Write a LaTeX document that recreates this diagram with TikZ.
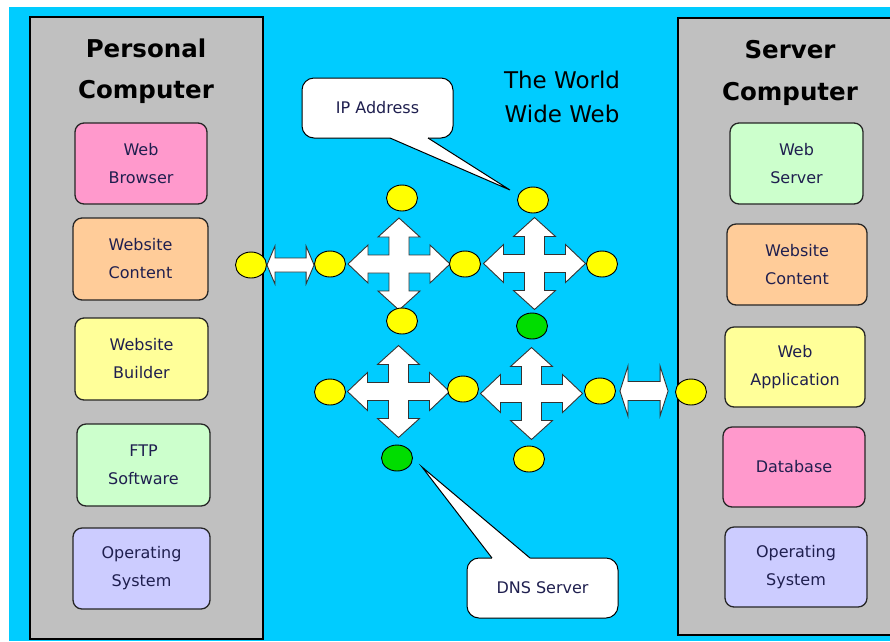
\documentclass[tikz,border=0pt]{standalone}
\usepackage{fontspec}
\setmainfont{DejaVu Sans}
\usetikzlibrary{shapes.geometric,calc}
\definecolor{sky}{HTML}{00CCFF}
\definecolor{panelgray}{HTML}{C0C0C0}
\definecolor{pinkb}{HTML}{FF99CC}
\definecolor{orangeb}{HTML}{FFCC99}
\definecolor{yellowb}{HTML}{FFFF99}
\definecolor{greenb}{HTML}{CCFFCC}
\definecolor{lavb}{HTML}{CCCCFF}
\definecolor{dotyellow}{HTML}{FFFF00}
\definecolor{dotgreen}{HTML}{00DD00}
\definecolor{txt}{HTML}{1F1F4F}
\tikzset{
 panel/.style={draw=black, line width=1.5pt, fill=panelgray},
 compbox/.style={draw=black!85, line width=1.3pt, rounded corners=9pt, inner sep=0pt, align=center, text=txt, font=\fontsize{16}{28}\selectfont},
 titletext/.style={font=\fontsize{24.5}{30}\selectfont\bfseries, anchor=base, inner sep=0pt},
 wwwtext/.style={font=\fontsize{23}{30}\selectfont, anchor=base, inner sep=0pt},
 dot/.style={ellipse, draw=black, line width=0.9pt, fill=dotyellow, minimum width=31pt, minimum height=26pt, inner sep=0pt},
 gdot/.style={dot, fill=dotgreen},
 blockarrow/.style={fill=white, draw=black!80, line width=0.9pt, line join=miter},
 bubble/.style={fill=white, draw=black, line width=1pt, rounded corners=12pt, text=txt, font=\fontsize{16}{20}\selectfont, inner sep=0pt},
 warpcross/.pic={
  \path[blockarrow] (0,-46) -- (21,-27) -- (10,-27) -- (10,-9) -- (31,-9) -- (31,-19) -- (51,0)
   -- (31,19) -- (31,9) -- (10,9) -- (10,27) -- (21,27) -- (0,46) -- (-21,27) -- (-10,27)
   -- (-10,9) -- (-31,9) -- (-31,19) -- (-51,0) -- (-31,-19) -- (-31,-9) -- (-10,-9)
   -- (-10,-27) -- (-21,-27) -- cycle;
 }
}
\begin{document}
\begin{tikzpicture}[x=1pt,y=-1pt]
\useasboundingbox (0,0) rectangle (890,641);
\fill[white] (0,0) rectangle (890,641);
\fill[sky] (9,7) rectangle (890,641);

% panels
\path[panel] (30,17) rectangle (263,639);
\path[panel] (678,18) rectangle (900,635);

% titles
\node[titletext] (pc1) at (146,57) {Personal};
\node[titletext] (pc2) at (146,98) {Computer};
\node[titletext] (sc1) at (790,58) {Server};
\node[titletext] (sc2) at (790,100) {Computer};
\node[wwwtext] (www1) at (562,88) {The World};
\node[wwwtext] (www2) at (562,122) {Wide Web};

% left boxes
\node[compbox, fill=pinkb, minimum width=132pt, minimum height=81pt] (lb1) at (141,163.5) {Web\\Browser};
\node[compbox, fill=orangeb, minimum width=135pt, minimum height=82pt] (lb2) at (140.5,259) {Website\\Content};
\node[compbox, fill=yellowb, minimum width=133pt, minimum height=82pt] (lb3) at (141.5,359) {Website\\Builder};
\node[compbox, fill=greenb, minimum width=133pt, minimum height=82pt] (lb4) at (143.5,465) {FTP\\Software};
\node[compbox, fill=lavb, minimum width=137pt, minimum height=81pt] (lb5) at (141.5,568.5) {Operating\\System};

% right boxes
\node[compbox, fill=greenb, minimum width=133pt, minimum height=81pt] (rb1) at (796.5,163.5) {Web\\Server};
\node[compbox, fill=orangeb, minimum width=140pt, minimum height=81pt] (rb2) at (797,264.5) {Website\\Content};
\node[compbox, fill=yellowb, minimum width=140pt, minimum height=80pt] (rb3) at (795,367) {Web\\Application};
\node[compbox, fill=pinkb, minimum width=142pt, minimum height=80pt] (rb4) at (794,467) {Database};
\node[compbox, fill=lavb, minimum width=142pt, minimum height=80pt] (rb5) at (796,567) {Operating\\System};

% cross arrows
\pic at (399,264) {warpcross};
\pic at (534.5,263.5) {warpcross};
\pic at (398.5,391.5) {warpcross};
\pic at (531.5,393.5) {warpcross};

% dots
\node[dot] (e1) at (251,265) {};
\node[dot] (e2) at (330,264) {};
\node[dot] (e3) at (465,264) {};
\node[dot] (e4) at (602,264) {};
\node[dot] (e5) at (402,198) {};
\node[dot] (e6) at (533,200) {};
\node[dot] (e7) at (402,321) {};
\node[gdot] (e8) at (532,326) {};
\node[dot] (e9) at (330,392) {};
\node[dot] (e10) at (463,389) {};
\node[dot] (e11) at (600,391) {};
\node[dot] (e12) at (691,392) {};
\node[gdot] (e13) at (397,458) {};
\node[dot] (e14) at (529,459) {};

% double arrows
\path[blockarrow] let \p1=(e1.east), \p2=(e2.west) in
 (\x1,\y1) -- (\x1+8pt,\y1+19pt) -- (\x1+8pt,\y1+7pt) -- (\x2-8pt,\y1+7pt) -- (\x2-8pt,\y1+19pt)
 -- (\x2,\y1) -- (\x2-8pt,\y1-19pt) -- (\x2-8pt,\y1-7pt) -- (\x1+8pt,\y1-7pt) -- (\x1+8pt,\y1-19pt) -- cycle;
\path[blockarrow] let \p1=([xshift=4pt]e11.east), \p2=([xshift=-7pt]e12.west) in
 (\x1,\y1) -- (\x1+8pt,\y1+25pt) -- (\x1+8pt,\y1+9.5pt) -- (\x2-8pt,\y1+9.5pt) -- (\x2-8pt,\y1+25pt)
 -- (\x2,\y1) -- (\x2-8pt,\y1-25pt) -- (\x2-8pt,\y1-9.5pt) -- (\x1+8pt,\y1-9.5pt) -- (\x1+8pt,\y1-25pt) -- cycle;

% callouts
\node[bubble, draw, minimum width=151pt, minimum height=60pt] (ipbox) at (377.5,108) {};
\coordinate (iptip) at (510,190);
\fill[white] (390,138) -- (iptip) -- (428,138) -- (428,130) -- (390,130) -- cycle;
\draw[line width=1pt, line join=miter] (390,138) -- (iptip) -- (428,138);
\node[text=txt, font=\fontsize{16}{20}\selectfont] at (ipbox.center) {IP Address};

\node[bubble, draw, minimum width=151pt, minimum height=60pt] (dnsbox) at (542.5,588) {};
\coordinate (dnstip) at (422,467);
\fill[white] (492,558) -- (dnstip) -- (530,558) -- (530,566) -- (492,566) -- cycle;
\draw[line width=1pt, line join=miter] (492,558) -- (dnstip) -- (530,558);
\node[text=txt, font=\fontsize{16}{20}\selectfont] at (dnsbox.center) {DNS Server};
\end{tikzpicture}
\end{document}
